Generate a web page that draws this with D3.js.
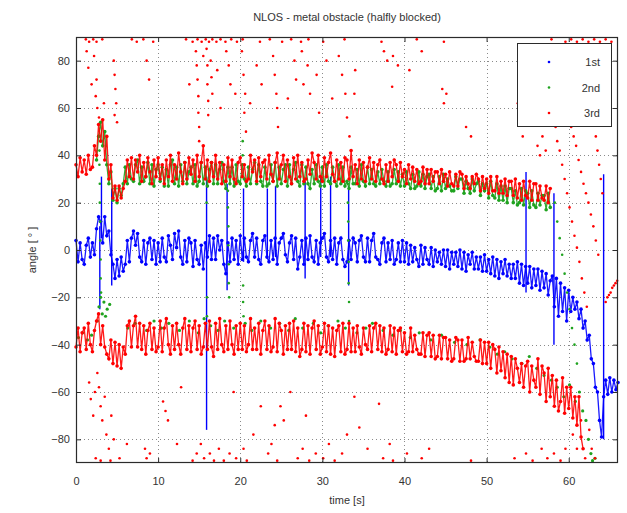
<!DOCTYPE html>
<html><head><meta charset="utf-8">
<script src="https://cdn.jsdelivr.net/npm/d3@7"></script>
<style>
html,body{margin:0;padding:0;background:#fff;}
svg{display:block;font-family:"Liberation Sans",Arial,sans-serif;}
</style></head>
<body><svg id="c" width="627" height="513"></svg>
<script>
// ---- data (angles in degrees, time in seconds) ----
const xTicks = [0,10,20,30,40,50,60];
const yTicks = [-80,-60,-40,-20,0,20,40,60,80];
const seriesNames = ["1st","2nd","3rd"];
const seriesColors = ["#0000ff","#1fa31f","#ff0000"];
const bandStep = 0.25;

// 1st (blue) main track, sampled every 0.25 s from t = 0
const blueBand = [4,-5,3,-4, -6,2,5,-3, 3,-2,9,14, 12,3,14,6, 8,-2,-6,-12, -4,-11,-3,-9,
 -6,4,-5,5, 8,2,7,-3, -5,4,-6,3, 5,-4,4,-6, 3,-5,5,-3, -5,6,2,-4, 7,1,8,-3, -6,4,-5,5,
 3,-7,4,-4, -6,2,-8,3, -3,6,-4,5, -4,6,0,4, -6,-10,3,-5, 5,-4,4,-6, 6,-4,5,-3, -5,4,7,-3,
 5,-4,-6,4, 6,-3,-5,4, -4,5,-6,3, 5,7,-2,-5, 3,6,-4,5, -8,-3,4,-6, 5,-4,6,-3, -5,4,-6,3,
 5,7,-3,-5, 4,-4,5,-6, 3,5,-4,-7, -5,4,-4,5, 3,-5,4,6, -3,-5,5,-5, 4,7,-3,-4, -6,3,5,-5,
 3,-4,4,-6, -4,3,-5,4, -5,3,-6,2, -5,1,-4,-7, 2,-6,1,-4, -6,1,-7,0, -5,-1,-6,0,
 -7,0,-8,-1, -6,-1,-7,0, -8,-1,-9,-2, -6,-1,-8,-3, -8,-3,-9,-2, -9,-4,-10,-3, -11,-4,-12,-5,
 -10,-4,-11,-6, -12,-6,-12,-5, -14,-6,-15,-7, -14,-7,-16,-8, -15,-8,-17,-9, -16,-10,-19,-13,
 -11,-24,-12,-28, -14,-26,-16,-30, -17,-26,-20,-25, -22,-29,-25,-33, -30,-38,-36,-46,
 -48,-58,-60,-72, -79,-62,-55,-61, -54,-60,-55,-59,-56];

// 3rd (red) upper track, from t = 0
const redUpper = [36,31,39,33, 38,32,40,34, 35,44,40,53, 46,55,38,48, 30,36,22,27, 21,27,22,26,
 29,38,31,39, 30,38,33,40, 29,37,31,39, 33,28,38,31, 39,30,36,28, 38,31,40,29, 36,30,41,33,
 28,37,30,39, 32,38,29,40, 31,37,44,30, 38,29,37,31, 40,30,37,28, 36,29,39,31, 38,30,28,37,
 39,31,36,29, 30,40,33,38, 29,39,31,37, 38,30,40,32, 29,37,41,30, 36,40,29,38, 31,28,39,30,
 40,31,37,29, 30,38,32,41, 37,30,40,31, 29,39,31,37, 41,32,29,38, 30,37,29,39, 38,30,42,31,
 36,28,38,30, 37,29,35,39, 30,37,29,36, 38,30,28,36, 29,37,31,38, 36,29,37,31, 34,28,36,30,
 35,29,34,28, 29,35,28,34, 28,34,29,33, 33,28,34,29, 32,27,33,28, 27,32,27,33, 32,26,31,28,
 26,31,28,32, 30,25,31,26, 30,24,31,25, 25,31,24,29, 24,30,23,29, 29,23,30,22, 28,21,29,23,
 22,29,21,28, 28,21,27,22, 21,27,20,26];

// 2nd (green) upper track, from t = 2.5
const greenUpperT0 = 2.5;
const greenUpper = [38,48, 54,44,50,36, 28,33,21,26, 20,26,23,28, 35,28,36,30, 29,36,38,28,
 35,29,31,37, 28,36,27,34, 36,29,35,27, 34,27,36,38, 28,35,27,36, 29,37,28,33, 35,28,36,27,
 29,37,28,35, 27,34,37,28, 36,28,34,37, 29,26,35,28, 35,27,36,29, 28,36,30,27, 35,28,34,37,
 28,36,29,27, 35,27,28,36, 29,37,27,35, 28,34,36,27, 36,28,34,37, 29,27,36,28, 35,28,26,34,
 28,36,29,27, 35,27,36,29, 28,35,29,27, 36,28,35,27, 29,26,35,28, 28,34,27,36, 29,27,35,28,
 34,28,27,33, 28,34,29,27, 33,27,28,34, 28,33,27,32, 27,33,28,26, 32,26,27,33, 27,32,26,31,
 32,26,31,25, 26,31,25,32, 26,30,27,25, 25,31,26,30, 30,24,29,26, 24,30,25,28, 29,23,28,25,
 28,22,29,23, 22,28,21,27, 21,27,20,26, 26,20,25,19, 20,26,19,25, 24,18,25,19, 18,24,19,23,
 23,17,24,18];

// 3rd (red) lower track, from t = 0
const redLower = [-41,-33,-43,-35, -33,-42,-31,-40, -43,-34,-30,-27, -40,-32,-41,-44, -46,-38,-48,-39,
 -49,-40,-50,-41, -44,-32,-30,-41, -32,-28,-41,-31, -42,-32,-44,-34, -31,-42,-33,-43, -41,-30,-43,-33,
 -29,-40,-44,-32, -42,-31,-40,-44, -33,-29,-42,-32, -43,-33,-30,-42, -32,-44,-41,-31, -42,-30,-41,-45,
 -31,-42,-29,-40, -43,-32,-42,-30, -40,-44,-32,-42, -31,-42,-32,-43, -40,-29,-42,-33, -42,-31,-44,-34,
 -30,-42,-32,-43, -41,-29,-43,-31, -34,-44,-32,-42, -31,-42,-30,-43, -33,-45,-42,-31, -43,-32,-44,-33,
 -30,-42,-32,-44, -41,-31,-43,-32, -44,-33,-45,-34, -32,-43,-31,-44, -42,-31,-43,-33, -43,-32,-41,-44,
 -33,-40,-42,-32, -43,-33,-31,-42, -32,-43,-33,-44, -42,-32,-43,-33, -44,-34,-33,-43, -35,-44,-43,-33,
 -43,-36,-42,-44, -44,-35,-45,-36, -35,-45,-36,-46, -45,-36,-46,-37, -37,-46,-38,-47, -46,-37,-38,-47,
 -38,-47,-46,-37, -46,-39,-45,-47, -47,-38,-48,-39, -48,-39,-50,-40, -42,-52,-41,-51, -43,-54,-44,-56,
 -45,-57,-46,-50, -56,-48,-58,-49, -47,-60,-49,-55, -58,-46,-61,-49, -52,-64,-50,-62, -53,-66,-55,-68,
 -64,-54,-69,-58, -67,-58,-71,-62, -74,-62,-79,-84];

// 2nd (green) lower points [t, angle]
const greenLower = [[0.3,-37],[0.8,-35],[1.4,-38],[1.9,-36],[2.6,-30],[2.8,-24],[3.0,-20],[3.2,-27],[3.4,-22],
 [3.6,-28],[3.8,-25],[4.1,-23],[6.3,-33],[7.2,-31],[8.6,-34],[9.5,-30],[10.4,-33],[11.3,-31],[12.6,-34],
 [13.8,-30],[14.9,-35],[15.6,-29],[16.4,-32],[17.3,-34],[18.1,-30],[19.2,-33],[20.6,-31],[21.4,-34],
 [22.5,-30],[23.7,-33],[24.8,-31],[25.9,-34],[26.7,-29],[27.6,-33],[28.9,-31],[29.8,-35],[30.7,-32],
 [31.9,-30],[32.8,-33],[34.2,-35],[35.3,-33],[36.1,-31],[37.4,-34],[38.6,-36],[39.5,-34],[40.7,-37],
 [41.8,-35],[43.2,-38],[44.5,-36],[46.1,-39],[47.6,-40],[49.2,-38],[50.4,-41],[51.3,-44],[52.2,-43],
 [53.1,-46],[54.3,-48],[55.2,-45],[56.1,-50],[57.0,-53],[57.9,-55],[58.6,-58],[59.4,-62],[60.1,-57],
 [60.8,-64],[61.3,-60],[61.7,-68],[62.1,-72],[62.4,-80],[62.7,-86],[62.9,-89],[63.2,-88]];

// 2nd (green) scattered points [t, angle]
const greenScatter = [[2.85,42],[2.85,36],[2.9,28],[2.9,20],[2.95,12],[2.95,4],[3.0,-4],[3.0,-12],[3.05,-18],
 [18.5,25],[18.5,18],[18.55,10],[18.55,2],[18.6,-6],[18.6,-14],[18.65,-20],
 [20.3,46],[20.3,40],[20.35,-15],[20.35,-22],[20.4,-28],
 [33.1,28],[33.1,20],[33.15,12],[33.15,4],[33.2,-5],[33.2,-14],[33.25,-22],[33.25,-30],
 [15.9,20],[15.95,-20],[15.95,-28],
 [58.3,20],[58.6,12],[58.9,5],[59.2,-2],[59.5,-10],[59.8,-18],[60.1,-25],[60.4,-33],[60.7,-40],[61.0,-48]];

// 1st (blue) vertical spikes [t, low, high]
const blueSpikes = [[2.9,-25,10],[3.1,5,31],[4.35,-15,26],[15.9,-76,31],[18.4,-17,28],[20.4,-5,26],
 [23.3,-3,26],[24.3,-3,27],[27.9,-12,29],[29.8,-3,31],[31.0,-3,31],[33.2,-15,27],[54.8,-18,33],
 [58.2,-40,24],[64.25,-80,32]];

// 3rd (red) scattered points [t, angle]
const redScatter = [
 [1.2,89],[1.6,88],[2.1,89],[2.5,88],[3.2,89],[6.8,89],[7.4,88],[8.2,89],[9.4,88],[13.4,89],[14.2,88],
 [14.8,89],[15.3,88],[15.8,89],[16.2,88],[16.6,89],[17.1,88],[17.6,89],[18.2,88],[18.9,89],[19.6,88],
 [20.3,89],[22.4,88],[23.6,89],[25.1,88],[26.2,89],[27.4,88],[28.3,89],[30.1,88],[32.7,89],[37.2,88],
 [41.5,89],[44.8,88],[57.9,89],[59.6,88],[60.3,89],[61.0,88],[61.7,89],[62.4,88],[63.1,89],[63.8,88],
 [64.5,89],[65.2,88],
 [1.3,84],[1.5,77],[1.9,70],[2.2,82],[2.4,65],[2.6,60],[2.8,56],[2.5,72],[3.4,62],[4.6,80],[4.7,74],
 [4.8,68],[4.9,62],[4.7,57],[5.0,54],[8.6,80],[8.9,72],[13.8,70],[14.6,84],[14.7,78],[14.8,72],[14.9,65],
 [14.9,58],[15.0,52],[15.0,46],[15.5,82],[15.9,85],[16.0,78],[16.0,70],[16.1,63],[16.1,57],[16.4,80],
 [16.5,73],[16.6,66],[17.2,76],[17.6,60],[18.3,84],[18.6,78],[18.8,70],[19.4,66],[20.2,84],[20.4,74],
 [20.6,66],[20.5,58],[20.7,50],[21.2,62],[22.0,78],[22.6,70],[24.0,82],[24.2,74],[24.4,66],[24.5,60],
 [24.6,52],[25.8,64],[26.6,80],[26.8,72],[27.5,84],[27.7,70],[28.2,78],[28.5,66],[29.3,74],[29.6,58],
 [30.5,80],[31.2,64],[32.0,82],[32.4,74],[32.8,66],[33.0,56],[33.3,48],[34.0,76],[33.9,66],[37.5,84],
 [37.9,80],[38.5,69],[38.6,82],[39.2,78],[40.6,76],[42.1,84],[44.6,68],[44.8,62],[45.1,66],[47.5,52],
 [48.1,48],[53.8,62],[54.2,56],[54.4,48],[56.2,44],[56.5,40],[56.8,48],[57.2,42],
 [57.6,84],[57.8,76],[58.0,68],[58.2,60],[58.4,52],[58.6,46],[58.9,42],[59.2,36],[59.5,30],[59.8,24],
 [60.1,18],[60.4,12],[60.7,6],[61.0,1],[61.3,-5],[61.6,-12],[61.9,-18],[62.2,-24],
 [59.7,62],[60.0,56],[60.3,52],[60.6,48],[60.9,44],[61.2,38],[61.5,33],[61.8,28],[62.1,24],[62.4,20],
 [62.7,15],[63.0,10],[63.3,4],[63.6,-2],
 [61.9,84],[62.2,78],[62.5,72],[62.7,66],[62.9,60],[63.1,54],[63.3,48],[63.5,42],[63.7,36],[63.9,30],[64.1,24],
 [64.5,-22],[64.7,-20],[64.9,-19],[65.1,-18],[65.3,-16],[65.5,-15],[65.7,-14],[65.9,-13],
 [60.5,-78],[61.0,-84],[61.5,-72],[62.0,-88],[62.5,-76],[62.8,-84],[63.2,-88],
 [1.6,-56],[1.8,-63],[2.1,-70],[2.3,-60],[2.6,-52],[2.8,-58],[3.0,-66],[3.2,-72],[3.5,-62],[3.7,-78],
 [4.0,-84],[4.3,-70],[4.6,-80],[2.4,-88],[3.0,-89],[4.2,-89],[5.3,-88],[8.4,-84],[8.6,-88],[9.0,-86],
 [10.6,-64],[10.9,-68],[11.2,-72],[12.3,-82],[14.2,-89],[14.7,-86],[15.2,-82],[15.6,-88],[16.3,-86],
 [16.8,-89],[17.4,-84],[18.0,-89],[18.7,-86],[19.5,-88],[20.4,-84],[20.8,-89],[21.6,-78],[23.4,-86],
 [23.8,-82],[24.2,-74],[24.5,-89],[24.9,-66],[25.3,-72],[26.1,-60],[27.0,-88],[27.6,-84],[28.4,-89],
 [29.2,-86],[30.1,-88],[30.8,-82],[31.5,-89],[32.4,-86],[33.0,-78],[35.5,-84],[36.9,-65],[37.4,-88],
 [38.2,-82],[38.6,-89],[40.3,-86],[42.1,-88],[43.0,-84],[48.1,-89],[53.4,-88],[54.8,-86],[55.6,-89],
 [56.7,-84],[57.4,-88],[58.2,-86],[59.0,-89],[59.6,-84],[33.9,-62],[34.5,-75],[28.0,-70],[22.5,-66],
 [19.2,-60],[12.8,-58],[6.2,-82]];

// ---- drawing ----
const svg = d3.select("#c");
const L = 76, R = 618, T = 37, B = 463;
const x = d3.scaleLinear().domain([0,66]).range([L,R]);
const y = d3.scaleLinear().domain([-90,90]).range([B,T]);
const ink = "#2b2b2b";

// grid
const grid = svg.append("g").attr("stroke","#8a8a8a").attr("stroke-width",1).attr("stroke-dasharray","1,3");
grid.selectAll("line.v").data(xTicks.filter(d=>d>0)).join("line")
  .attr("x1",d=>Math.round(x(d))+0.5).attr("x2",d=>Math.round(x(d))+0.5).attr("y1",T).attr("y2",B);
grid.selectAll("line.h").data(yTicks).join("line")
  .attr("y1",d=>Math.round(y(d))+0.5).attr("y2",d=>Math.round(y(d))+0.5).attr("x1",L).attr("x2",R);

const plot = svg.append("g");
const bandPts = (vals,t0)=>vals.map((v,i)=>[t0+i*bandStep,v]);
const line = d3.line().x(d=>x(d[0])).y(d=>y(d[1]));

function drawBand(vals,t0,color){
  const pts = bandPts(vals,t0);
  plot.append("path").attr("d",line(pts)).attr("fill","none").attr("stroke",color).attr("stroke-width",1.3).attr("opacity",0.9);
  plot.append("g").attr("fill",color).selectAll("circle").data(pts).join("circle")
    .attr("cx",d=>x(d[0])).attr("cy",d=>y(d[1])).attr("r",1.8);
}
function drawDots(pts,color,r){
  plot.append("g").attr("fill",color).selectAll("circle").data(pts).join("circle")
    .attr("cx",d=>x(d[0])).attr("cy",d=>y(d[1])).attr("r",r);
}

// 1st (blue)
plot.append("g").attr("stroke",seriesColors[0]).attr("stroke-width",1.4)
  .selectAll("line").data(blueSpikes).join("line")
  .attr("x1",d=>x(d[0])).attr("x2",d=>x(d[0])).attr("y1",d=>y(d[1])).attr("y2",d=>y(d[2]));
drawBand(blueBand,0,seriesColors[0]);
// 2nd (green)
drawBand(greenUpper,greenUpperT0,seriesColors[1]);
drawDots(greenLower,seriesColors[1],1.6);
drawDots(greenScatter,seriesColors[1],1.3);
// 3rd (red)
drawBand(redUpper,0,seriesColors[2]);
drawBand(redLower,0,seriesColors[2]);
drawDots(redScatter,seriesColors[2],1.3);

// frame + axes
const fr = svg.append("g");
fr.append("rect").attr("x",L+0.5).attr("y",T+0.5).attr("width",R-L-1).attr("height",B-T-1)
  .attr("fill","none").attr("stroke",ink).attr("stroke-width",1.2);

function styleAxis(g){ g.select(".domain").remove(); g.selectAll(".tick line").attr("stroke",ink);
  g.selectAll("text").attr("fill","#333").attr("font-size",11).attr("font-family","'Liberation Sans',Arial,sans-serif"); }
svg.append("g").attr("transform",`translate(0,${B})`)
  .call(d3.axisBottom(x).tickValues(xTicks).tickSize(-5).tickPadding(14).tickFormat(d3.format("d"))).call(styleAxis);
svg.append("g").attr("transform",`translate(0,${T})`)
  .call(d3.axisTop(x).tickValues(xTicks).tickSize(-5).tickFormat("")).call(styleAxis);
svg.append("g").attr("transform",`translate(${L},0)`)
  .call(d3.axisLeft(y).tickValues(yTicks).tickSize(-5).tickPadding(6).tickFormat(d3.format("d"))).call(styleAxis);
svg.append("g").attr("transform",`translate(${R},0)`)
  .call(d3.axisRight(y).tickValues(yTicks).tickSize(-5).tickFormat("")).call(styleAxis);

// labels
svg.append("text").attr("x",(L+R)/2).attr("y",21).attr("text-anchor","middle")
  .attr("font-size",11).attr("fill","#333").text("NLOS - metal obstacle (halfly blocked)");
svg.append("text").attr("x",(L+R)/2).attr("y",504).attr("text-anchor","middle")
  .attr("font-size",11).attr("fill","#333").text("time [s]");
svg.append("text").attr("transform",`translate(36,${(T+B)/2}) rotate(-90)`).attr("text-anchor","middle")
  .attr("font-size",11).attr("fill","#333").text("angle [ ° ]");

// legend
const lg = svg.append("g");
lg.append("rect").attr("x",517.5).attr("y",43.5).attr("width",94).attr("height",83)
  .attr("fill","#fff").attr("stroke",ink).attr("stroke-width",1);
seriesNames.forEach((n,i)=>{
  const yy = 62 + i*25.5;
  lg.append("circle").attr("cx",549).attr("cy",yy).attr("r",1.3).attr("fill",seriesColors[i]);
  lg.append("text").attr("x",600).attr("y",yy+4).attr("text-anchor","end")
    .attr("font-size",11).attr("fill","#333").text(n);
});
</script></body></html>
